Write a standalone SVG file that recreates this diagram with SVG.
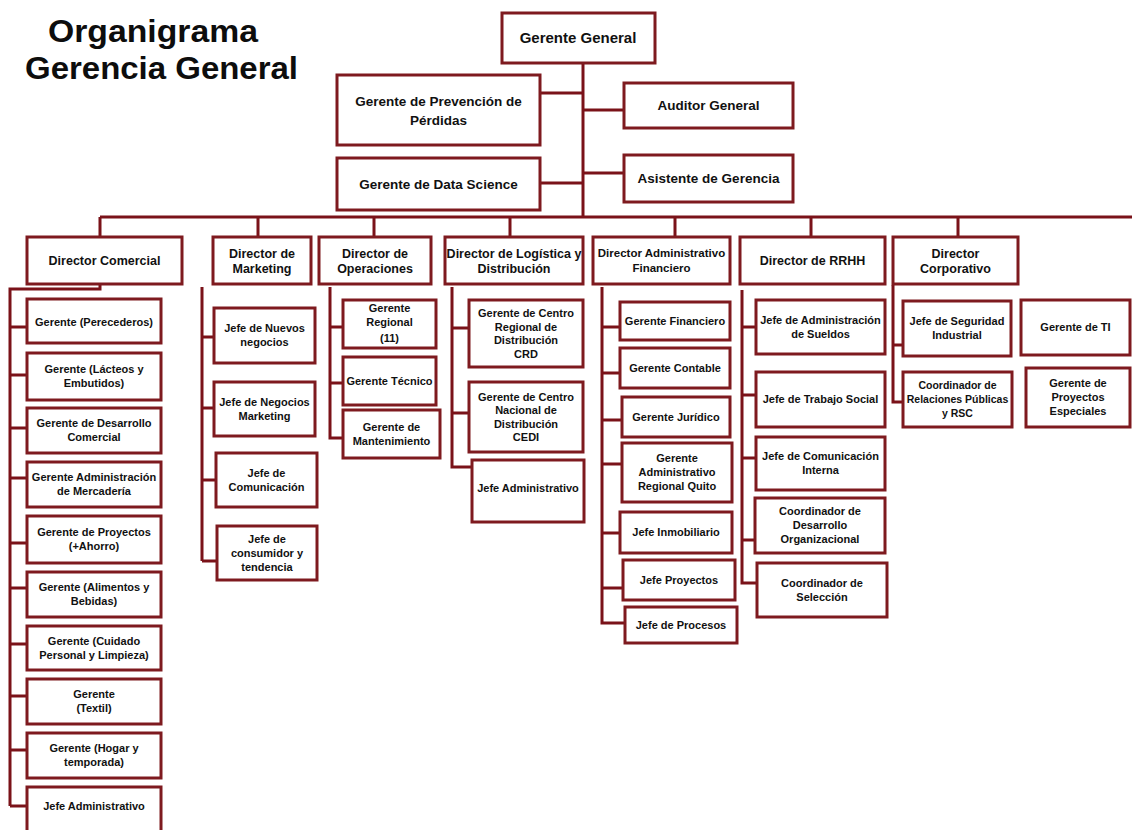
<svg xmlns="http://www.w3.org/2000/svg" width="1132" height="830" viewBox="0 0 1132 830">
  <style>
    .box { fill: #ffffff; stroke: #7e1a1f; stroke-width: 3; }
    .ln { fill: none; stroke: #7a1219; stroke-width: 3; }
    text { font-family: "Liberation Sans", Arial, sans-serif; font-weight: bold; fill: #111111; text-anchor: middle; }
    .title { font-size: 31px; text-anchor: start; fill: #0d0d0d; }
    .top { font-size: 13.5px; }
    .gg { font-size: 15px; }
    .d { font-size: 12.5px; }
    .d2 { font-size: 11.5px; }
    .c { font-size: 11px; }
    .cs { font-size: 10.5px; }
  </style>

  <rect x="0" y="0" width="1132" height="830" fill="#ffffff"/>

  <!-- heading -->
  <g id="heading">
    <text class="title" x="48" y="42" textLength="210" lengthAdjust="spacingAndGlyphs">Organigrama</text>
    <text class="title" x="25" y="79" textLength="273" lengthAdjust="spacingAndGlyphs">Gerencia General</text>
  </g>

  <!-- connectors -->
  <g id="connectors" class="ln">
    <!-- trunk from Gerente General and staff branches -->
    <path d="M583 63 V217"/>
    <path d="M540 93 H583"/>
    <path d="M583 110 H624"/>
    <path d="M540 183 H583"/>
    <path d="M583 173 H624"/>
    <!-- director bus -->
    <path d="M100 217 H1132"/>
    <path d="M100 217 V237 M258 217 V237 M374 217 V237 M510 217 V237 M675 217 V237 M811 217 V237 M958 217 V237"/>
    <!-- Director Comercial branch -->
    <path d="M100 285 V289 H10 V806"/>
    <path d="M10 327 H27 M10 375 H27 M10 428 H27 M10 478 H27 M10 543 H27 M10 588 H27 M10 644 H27 M10 696 H27 M10 750 H27 M10 806 H27"/>
    <!-- Director de Marketing branch -->
    <path d="M202 287 V561"/>
    <path d="M202 337 H214 M202 408 H214 M202 480 H216 M202 561 H217"/>
    <!-- Director de Operaciones branch -->
    <path d="M330 287 V438 H343"/>
    <path d="M330 327 H343 M330 383 H343"/>
    <!-- Director de Logística y Distribución branch -->
    <path d="M452 287 V467 H472"/>
    <path d="M452 328 H469 M452 413 H469"/>
    <!-- Director Administrativo Financiero branch -->
    <path d="M602 287 V623 H625"/>
    <path d="M602 327 H620 M602 373 H620 M602 420 H622 M602 464 H622 M602 533 H620 M602 588 H623"/>
    <!-- Director de RRHH branch -->
    <path d="M742 290 V583 H757"/>
    <path d="M742 327 H756 M742 395 H756 M742 458 H756 M742 540 H755"/>
    <!-- Director Corporativo branch -->
    <path d="M893 285 V402 H903"/>
    <path d="M893 345 H903"/>
  </g>

  <!-- top management -->
  <g id="gerente-general">
    <rect class="box" x="502" y="13" width="153" height="50"/>
    <text class="gg" x="578" y="43">Gerente General</text>
  </g>
  <g id="gerente-prevencion">
    <rect class="box" x="337" y="75" width="203" height="70"/>
    <text class="top" x="438.5" y="106">Gerente de Prevención de</text>
    <text class="top" x="438.5" y="125">Pérdidas</text>
  </g>
  <g id="auditor-general">
    <rect class="box" x="624" y="83" width="169" height="45"/>
    <text class="top" x="708.5" y="110">Auditor General</text>
  </g>
  <g id="gerente-data-science">
    <rect class="box" x="337" y="158" width="203" height="52"/>
    <text class="top" x="438.5" y="189">Gerente de Data Science</text>
  </g>
  <g id="asistente-gerencia">
    <rect class="box" x="624" y="155" width="169" height="47"/>
    <text class="top" x="708.5" y="183">Asistente de Gerencia</text>
  </g>

  <!-- directors -->
  <g id="dir-comercial">
    <rect class="box" x="27" y="237" width="155" height="47"/>
    <text class="d" x="104.5" y="265">Director Comercial</text>
  </g>
  <g id="dir-marketing">
    <rect class="box" x="213" y="237" width="98" height="47"/>
    <text class="d" x="262" y="258">Director de</text>
    <text class="d" x="262" y="273">Marketing</text>
  </g>
  <g id="dir-operaciones">
    <rect class="box" x="319" y="237" width="112" height="47"/>
    <text class="d" x="375" y="258">Director de</text>
    <text class="d" x="375" y="273">Operaciones</text>
  </g>
  <g id="dir-logistica">
    <rect class="box" x="445" y="237" width="138" height="47"/>
    <text class="d" x="514" y="258">Director de Logística y</text>
    <text class="d" x="514" y="273">Distribución</text>
  </g>
  <g id="dir-administrativo">
    <rect class="box" x="593" y="237" width="137" height="47"/>
    <text class="d2" x="661.5" y="257">Director Administrativo</text>
    <text class="d2" x="661.5" y="272">Financiero</text>
  </g>
  <g id="dir-rrhh">
    <rect class="box" x="740" y="237" width="145" height="47"/>
    <text class="d" x="812.5" y="265">Director de RRHH</text>
  </g>
  <g id="dir-corporativo">
    <rect class="box" x="893" y="237" width="125" height="47"/>
    <text class="d" x="955.5" y="258">Director</text>
    <text class="d" x="955.5" y="273">Corporativo</text>
  </g>

  <!-- Director Comercial reports -->
  <g id="com-perecederos">
    <rect class="box" x="27" y="299" width="134" height="44"/>
    <text class="c" x="94" y="326">Gerente (Perecederos)</text>
  </g>
  <g id="com-lacteos">
    <rect class="box" x="27" y="353" width="134" height="47"/>
    <text class="c" x="94" y="373">Gerente (Lácteos y</text>
    <text class="c" x="94" y="387">Embutidos)</text>
  </g>
  <g id="com-desarrollo">
    <rect class="box" x="27" y="408" width="134" height="45"/>
    <text class="c" x="94" y="427">Gerente de Desarrollo</text>
    <text class="c" x="94" y="441">Comercial</text>
  </g>
  <g id="com-mercaderia">
    <rect class="box" x="27" y="462" width="134" height="45"/>
    <text class="c" x="94" y="481">Gerente Administración</text>
    <text class="c" x="94" y="495">de Mercadería</text>
  </g>
  <g id="com-proyectos">
    <rect class="box" x="27" y="516" width="134" height="47"/>
    <text class="c" x="94" y="536">Gerente de Proyectos</text>
    <text class="c" x="94" y="550">(+Ahorro)</text>
  </g>
  <g id="com-alimentos">
    <rect class="box" x="27" y="572" width="134" height="45"/>
    <text class="c" x="94" y="591">Gerente (Alimentos y</text>
    <text class="c" x="94" y="605">Bebidas)</text>
  </g>
  <g id="com-cuidado">
    <rect class="box" x="27" y="626" width="134" height="44"/>
    <text class="c" x="94" y="645">Gerente (Cuidado</text>
    <text class="c" x="94" y="659">Personal y Limpieza)</text>
  </g>
  <g id="com-textil">
    <rect class="box" x="27" y="679" width="134" height="45"/>
    <text class="c" x="94" y="698">Gerente</text>
    <text class="c" x="94" y="712">(Textil)</text>
  </g>
  <g id="com-hogar">
    <rect class="box" x="27" y="733" width="134" height="45"/>
    <text class="c" x="94" y="752">Gerente (Hogar y</text>
    <text class="c" x="94" y="766">temporada)</text>
  </g>
  <g id="com-jefe-admin">
    <rect class="box" x="27" y="787" width="134" height="52"/>
    <text class="c" x="94" y="810">Jefe  Administrativo</text>
  </g>

  <!-- Director de Marketing reports -->
  <g id="mkt-nuevos">
    <rect class="box" x="214" y="308" width="101" height="55"/>
    <text class="c" x="264.5" y="332">Jefe de Nuevos</text>
    <text class="c" x="264.5" y="346">negocios</text>
  </g>
  <g id="mkt-negocios">
    <rect class="box" x="214" y="382" width="101" height="54"/>
    <text class="c" x="264.5" y="406">Jefe de Negocios</text>
    <text class="c" x="264.5" y="420">Marketing</text>
  </g>
  <g id="mkt-comunicacion">
    <rect class="box" x="216" y="453" width="101" height="54"/>
    <text class="c" x="266.5" y="477">Jefe de</text>
    <text class="c" x="266.5" y="491">Comunicación</text>
  </g>
  <g id="mkt-consumidor">
    <rect class="box" x="217" y="526" width="100" height="54"/>
    <text class="c" x="267" y="543">Jefe de</text>
    <text class="c" x="267" y="557">consumidor y</text>
    <text class="c" x="267" y="571">tendencia</text>
  </g>

  <!-- Director de Operaciones reports -->
  <g id="ops-regional">
    <rect class="box" x="343" y="300" width="93" height="48"/>
    <text class="c" x="389.5" y="312">Gerente</text>
    <text class="c" x="389.5" y="326">Regional</text>
    <text class="c" x="389.5" y="342">(11)</text>
  </g>
  <g id="ops-tecnico">
    <rect class="box" x="343" y="357" width="93" height="48"/>
    <text class="c" x="389.5" y="385">Gerente Técnico</text>
  </g>
  <g id="ops-mantenimiento">
    <rect class="box" x="343" y="410" width="97" height="48"/>
    <text class="c" x="391.5" y="431">Gerente  de</text>
    <text class="c" x="391.5" y="445">Mantenimiento</text>
  </g>

  <!-- Director de Logística y Distribución reports -->
  <g id="log-crd">
    <rect class="box" x="469" y="300" width="114" height="67"/>
    <text class="c" x="526" y="317">Gerente de Centro</text>
    <text class="c" x="526" y="331">Regional de</text>
    <text class="c" x="526" y="344">Distribución</text>
    <text class="c" x="526" y="358">CRD</text>
  </g>
  <g id="log-cedi">
    <rect class="box" x="469" y="382" width="114" height="70"/>
    <text class="c" x="526" y="401">Gerente de Centro</text>
    <text class="c" x="526" y="414">Nacional  de</text>
    <text class="c" x="526" y="428">Distribución</text>
    <text class="c" x="526" y="441">CEDI</text>
  </g>
  <g id="log-jefe-admin">
    <rect class="box" x="472" y="460" width="112" height="62"/>
    <text class="c" x="528" y="492">Jefe Administrativo</text>
  </g>

  <!-- Director Administrativo Financiero reports -->
  <g id="fin-financiero">
    <rect class="box" x="620" y="302" width="110" height="38"/>
    <text class="c" x="675" y="325">Gerente Financiero</text>
  </g>
  <g id="fin-contable">
    <rect class="box" x="620" y="348" width="110" height="40"/>
    <text class="c" x="675" y="372">Gerente Contable</text>
  </g>
  <g id="fin-juridico">
    <rect class="box" x="622" y="397" width="108" height="40"/>
    <text class="c" x="676" y="421">Gerente Jurídico</text>
  </g>
  <g id="fin-quito">
    <rect class="box" x="622" y="443" width="110" height="59"/>
    <text class="c" x="677" y="462">Gerente</text>
    <text class="c" x="677" y="476">Administrativo</text>
    <text class="c" x="677" y="490">Regional  Quito</text>
  </g>
  <g id="fin-inmobiliario">
    <rect class="box" x="620" y="512" width="112" height="41"/>
    <text class="c" x="676" y="536">Jefe Inmobiliario</text>
  </g>
  <g id="fin-proyectos">
    <rect class="box" x="623" y="560" width="112" height="40"/>
    <text class="c" x="679" y="584">Jefe Proyectos</text>
  </g>
  <g id="fin-procesos">
    <rect class="box" x="625" y="607" width="112" height="36"/>
    <text class="c" x="681" y="629">Jefe de Procesos</text>
  </g>

  <!-- Director de RRHH reports -->
  <g id="rh-sueldos">
    <rect class="box" x="756" y="300" width="129" height="54"/>
    <text class="c" x="820.5" y="324">Jefe de Administración</text>
    <text class="c" x="820.5" y="338">de Sueldos</text>
  </g>
  <g id="rh-trabajo-social">
    <rect class="box" x="756" y="372" width="129" height="55"/>
    <text class="c" x="820.5" y="403">Jefe de Trabajo Social</text>
  </g>
  <g id="rh-comunicacion">
    <rect class="box" x="756" y="437" width="129" height="53"/>
    <text class="c" x="820.5" y="460">Jefe de Comunicación</text>
    <text class="c" x="820.5" y="474">Interna</text>
  </g>
  <g id="rh-desarrollo">
    <rect class="box" x="755" y="498" width="130" height="55"/>
    <text class="c" x="820" y="515">Coordinador de</text>
    <text class="c" x="820" y="529">Desarrollo</text>
    <text class="c" x="820" y="543">Organizacional</text>
  </g>
  <g id="rh-seleccion">
    <rect class="box" x="757" y="563" width="130" height="54"/>
    <text class="c" x="822" y="587">Coordinador de</text>
    <text class="c" x="822" y="601">Selección</text>
  </g>

  <!-- Director Corporativo reports -->
  <g id="corp-seguridad">
    <rect class="box" x="903" y="301" width="108" height="55"/>
    <text class="c" x="957" y="325">Jefe de Seguridad</text>
    <text class="c" x="957" y="339">Industrial</text>
  </g>
  <g id="corp-relaciones">
    <rect class="box" x="903" y="372" width="109" height="55"/>
    <text class="cs" x="957.5" y="389">Coordinador de</text>
    <text class="cs" x="957.5" y="403">Relaciones Públicas</text>
    <text class="cs" x="957.5" y="417">y RSC</text>
  </g>
  <g id="corp-ti">
    <rect class="box" x="1021" y="300" width="109" height="55"/>
    <text class="c" x="1075.5" y="331">Gerente de TI</text>
  </g>
  <g id="corp-proyectos-especiales">
    <rect class="box" x="1026" y="368" width="104" height="59"/>
    <text class="c" x="1078" y="387">Gerente de</text>
    <text class="c" x="1078" y="401">Proyectos</text>
    <text class="c" x="1078" y="415">Especiales</text>
  </g>
</svg>
